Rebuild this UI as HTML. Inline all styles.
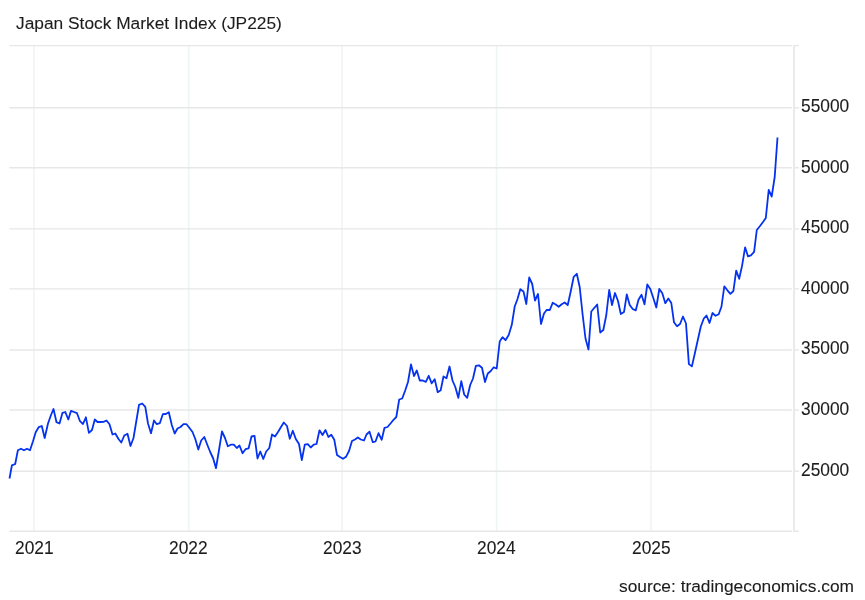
<!DOCTYPE html>
<html><head><meta charset="utf-8"><title>Japan Stock Market Index (JP225)</title>
<style>
html,body{margin:0;padding:0;background:#fff;}
body{width:865px;height:600px;position:relative;overflow:hidden;font-family:"Liberation Sans",sans-serif;color:#222;}
.t{position:absolute;will-change:transform;white-space:nowrap;font-size:17.33px;line-height:20px;color:#1c1c1c;-webkit-text-stroke:0.1px #1c1c1c;}
.n{transform:scaleY(1.035);transform-origin:50% 50%;}
</style></head><body>
<svg width="865" height="600" viewBox="0 0 865 600" style="position:absolute;left:0;top:0">
<line x1="34.0" y1="45.4" x2="34.0" y2="531.2" stroke="#eff4f5" stroke-width="1.6"/>
<line x1="188.7" y1="45.4" x2="188.7" y2="531.2" stroke="#eff4f5" stroke-width="1.6"/>
<line x1="342.0" y1="45.4" x2="342.0" y2="531.2" stroke="#eff4f5" stroke-width="1.6"/>
<line x1="496.55" y1="45.4" x2="496.55" y2="531.2" stroke="#eff4f5" stroke-width="1.6"/>
<line x1="651.0" y1="45.4" x2="651.0" y2="531.2" stroke="#eff4f5" stroke-width="1.6"/>
<line x1="9.3" y1="45.55" x2="791.8" y2="45.55" stroke="#e7e7e7" stroke-width="1.35"/>
<line x1="9.3" y1="107.75" x2="791.8" y2="107.75" stroke="#e7e7e7" stroke-width="1.35"/>
<line x1="9.3" y1="167.75" x2="791.8" y2="167.75" stroke="#e7e7e7" stroke-width="1.35"/>
<line x1="9.3" y1="228.9" x2="791.8" y2="228.9" stroke="#e7e7e7" stroke-width="1.35"/>
<line x1="9.3" y1="288.85" x2="791.8" y2="288.85" stroke="#e7e7e7" stroke-width="1.35"/>
<line x1="9.3" y1="350.0" x2="791.8" y2="350.0" stroke="#e7e7e7" stroke-width="1.35"/>
<line x1="9.3" y1="410.0" x2="791.8" y2="410.0" stroke="#e7e7e7" stroke-width="1.35"/>
<line x1="9.3" y1="471.25" x2="791.8" y2="471.25" stroke="#e7e7e7" stroke-width="1.35"/>
<line x1="9.3" y1="531.2" x2="791.8" y2="531.2" stroke="#e7e7e7" stroke-width="1.35"/>
<line x1="794" y1="44.9" x2="794" y2="532.0" stroke="#e9e9e9" stroke-width="1.9"/>
<line x1="794" y1="45.55" x2="799" y2="45.55" stroke="#e8e8e8" stroke-width="1.45"/>
<line x1="794" y1="107.75" x2="799" y2="107.75" stroke="#e8e8e8" stroke-width="1.45"/>
<line x1="794" y1="167.75" x2="799" y2="167.75" stroke="#e8e8e8" stroke-width="1.45"/>
<line x1="794" y1="228.9" x2="799" y2="228.9" stroke="#e8e8e8" stroke-width="1.45"/>
<line x1="794" y1="288.85" x2="799" y2="288.85" stroke="#e8e8e8" stroke-width="1.45"/>
<line x1="794" y1="350.0" x2="799" y2="350.0" stroke="#e8e8e8" stroke-width="1.45"/>
<line x1="794" y1="410.0" x2="799" y2="410.0" stroke="#e8e8e8" stroke-width="1.45"/>
<line x1="794" y1="471.25" x2="799" y2="471.25" stroke="#e8e8e8" stroke-width="1.45"/>
<line x1="794" y1="531.2" x2="799" y2="531.2" stroke="#e8e8e8" stroke-width="1.45"/>
<path d="M9.5,478.5 L11.9,465.4 L15.2,464.0 L17.9,450.2 L21.0,448.7 L24.0,450.3 L27.0,448.8 L30.0,450.2 L33.0,441.2 L35.7,432.2 L38.7,427.2 L41.8,426.0 L44.7,438.0 L48.0,423.5 L51.0,415.0 L53.5,409.0 L56.5,422.2 L59.5,423.5 L62.5,412.8 L65.3,412.0 L68.3,419.5 L71.0,410.8 L74.0,412.0 L77.0,413.2 L80.0,421.2 L83.0,424.0 L85.9,417.3 L88.9,432.8 L92.0,430.0 L94.8,419.5 L97.5,422.0 L100.5,422.0 L103.5,421.8 L106.5,420.5 L109.5,424.2 L112.5,434.5 L115.3,433.5 L118.5,439.0 L121.3,442.5 L124.3,435.5 L127.5,433.8 L130.5,446.0 L133.5,438.0 L136.5,420.0 L139.0,404.8 L142.2,403.5 L145.3,406.8 L148.0,423.5 L151.0,433.2 L154.0,420.5 L156.8,424.2 L159.8,423.2 L162.8,414.2 L165.8,414.0 L168.8,412.3 L171.8,425.0 L174.7,433.5 L177.5,428.5 L180.5,427.0 L183.5,424.2 L186.5,424.2 L189.5,428.0 L192.5,432.0 L195.3,439.0 L198.3,449.5 L201.2,440.5 L204.3,437.0 L207.2,444.5 L210.2,452.0 L213.2,458.5 L216.0,468.2 L219.0,450.0 L222.0,431.5 L225.0,438.0 L227.8,446.2 L230.8,444.7 L233.8,444.7 L236.8,448.0 L239.5,445.5 L242.5,453.2 L245.5,449.2 L248.6,448.3 L251.5,436.5 L254.5,435.8 L257.5,458.5 L260.3,451.5 L263.3,459.0 L266.2,451.5 L269.3,448.0 L272.0,434.5 L275.0,436.5 L278.0,432.0 L281.0,427.0 L283.8,422.5 L287.0,426.0 L289.8,438.8 L292.8,430.8 L295.8,439.0 L299.0,444.0 L301.8,460.0 L304.8,444.7 L307.8,444.2 L310.7,447.5 L313.7,444.7 L316.5,444.0 L319.5,430.3 L322.5,435.0 L325.5,430.0 L328.4,437.0 L331.3,434.8 L334.3,439.8 L337.0,455.0 L340.0,457.0 L343.0,458.8 L346.0,456.8 L349.0,451.0 L352.0,441.0 L355.0,439.5 L357.8,437.5 L360.8,439.5 L364.0,440.5 L366.5,434.5 L369.5,431.7 L372.8,442.2 L375.5,441.5 L378.5,433.2 L381.7,439.8 L384.5,427.8 L387.5,427.0 L390.5,423.5 L393.5,419.8 L396.3,417.0 L399.2,399.5 L402.2,398.5 L405.0,391.0 L408.0,382.0 L411.0,364.5 L414.0,376.0 L416.8,370.5 L419.8,380.5 L422.8,380.5 L425.8,381.8 L428.7,375.8 L431.7,383.3 L434.7,379.3 L437.7,392.2 L440.7,390.2 L443.5,376.5 L446.5,378.2 L449.5,366.5 L452.5,380.5 L455.3,387.0 L458.3,397.8 L461.3,381.2 L464.2,394.5 L467.2,397.8 L470.2,385.0 L473.0,378.5 L475.9,365.8 L478.9,365.3 L482.0,367.8 L485.0,382.0 L487.8,373.5 L490.8,371.0 L493.7,367.3 L496.7,368.5 L499.7,341.5 L502.5,337.2 L505.5,340.2 L508.7,335.0 L511.8,324.8 L514.7,306.5 L517.5,299.0 L520.3,289.2 L523.5,291.5 L526.3,304.0 L529.2,277.5 L532.2,284.0 L535.0,300.5 L538.0,294.0 L541.0,324.0 L544.0,313.5 L546.8,309.8 L549.8,310.0 L552.7,302.8 L555.7,304.5 L558.7,306.8 L561.7,304.3 L564.7,302.5 L567.7,305.2 L570.5,292.5 L573.7,276.8 L576.8,273.8 L579.7,287.0 L582.5,313.5 L585.5,338.5 L588.5,349.5 L591.3,311.5 L594.2,308.0 L597.2,304.5 L600.2,332.5 L603.3,330.0 L606.3,315.0 L609.2,290.0 L612.0,305.0 L615.0,293.0 L618.0,301.0 L620.8,314.0 L624.0,312.1 L626.8,294.5 L629.7,305.0 L632.7,309.0 L635.7,310.4 L638.5,299.7 L641.5,294.7 L644.5,304.3 L647.3,284.5 L650.3,289.0 L653.3,298.0 L656.3,307.5 L659.3,289.0 L662.3,293.3 L665.3,303.2 L668.3,298.5 L671.3,303.0 L674.0,322.3 L677.0,326.2 L680.0,324.0 L683.0,316.5 L686.0,323.5 L688.9,364.1 L691.9,366.4 L694.8,353.5 L697.8,340.0 L700.8,326.5 L703.8,318.5 L706.5,315.5 L709.5,323.0 L712.5,313.0 L715.5,315.8 L718.7,314.3 L721.5,306.5 L724.3,286.3 L727.4,290.3 L730.4,293.8 L733.4,291.0 L736.2,270.6 L739.2,278.8 L742.1,265.6 L745.1,247.3 L748.0,256.4 L750.9,255.4 L754.1,251.9 L756.8,230.0 L760.0,226.0 L763.0,222.0 L765.8,218.0 L768.7,190.0 L771.7,196.5 L774.7,177.0 L777.5,137.5" fill="none" stroke="#0532ee" stroke-width="1.8" stroke-linejoin="round" stroke-linecap="butt"/>
</svg>
<div class="t" style="left:16.3px;top:12.6px;">Japan Stock Market Index (JP225)</div>
<div class="t n" style="left:801px;top:96px;">55000</div>
<div class="t n" style="left:801px;top:157px;">50000</div>
<div class="t n" style="left:801px;top:217px;">45000</div>
<div class="t n" style="left:801px;top:278px;">40000</div>
<div class="t n" style="left:801px;top:338px;">35000</div>
<div class="t n" style="left:801px;top:399px;">30000</div>
<div class="t n" style="left:801px;top:460px;">25000</div>
<div class="t n" style="left:14.7px;top:537.5px;">2021</div>
<div class="t n" style="left:169.4px;top:537.5px;">2022</div>
<div class="t n" style="left:322.7px;top:537.5px;">2023</div>
<div class="t n" style="left:477.2px;top:537.5px;">2024</div>
<div class="t n" style="left:631.7px;top:537.5px;">2025</div>
<div class="t" style="right:11px;top:576px;">source: tradingeconomics.com</div>
</body></html>
